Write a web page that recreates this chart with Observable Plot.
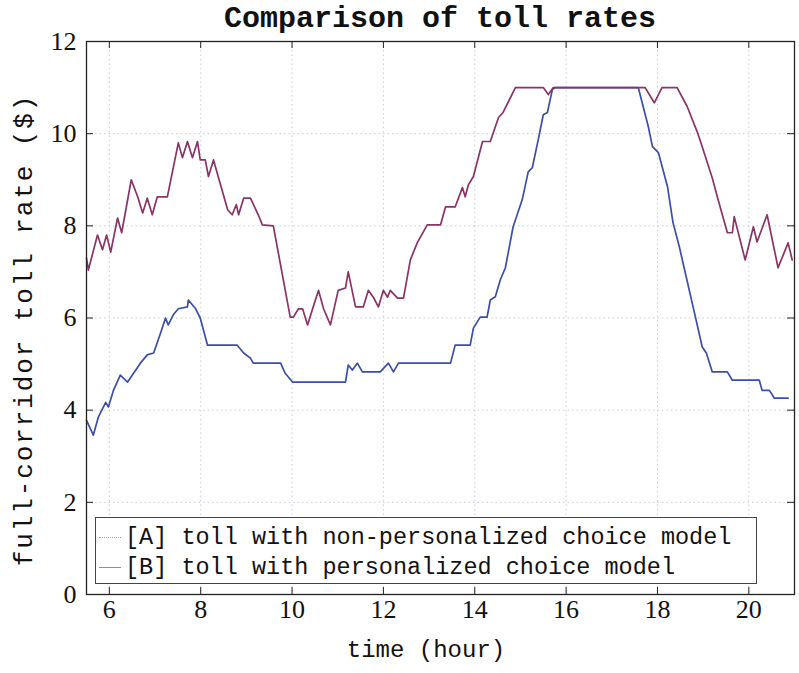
<!DOCTYPE html>
<html><head><meta charset="utf-8">
<script src="https://cdn.jsdelivr.net/npm/d3@7"></script>
<script src="https://cdn.jsdelivr.net/npm/@observablehq/plot@0.6"></script>
<style>
body{margin:0;background:#fff;}
#wrap{position:relative;width:799px;height:673px;overflow:hidden;background:#fff;}
#chart{position:absolute;left:0;top:0;}
#title{position:absolute;left:86px;width:708px;top:2px;text-align:center;font:bold 30px "Liberation Mono";color:#111;white-space:nowrap;z-index:2;}
#xlabel{position:absolute;left:86px;width:680px;top:637px;text-align:center;font:24px "Liberation Mono";color:#111;}
#ylabel{position:absolute;left:25px;top:330px;transform:translate(-50%,-50%) rotate(-90deg);font:26px "Liberation Mono";letter-spacing:1.9px;white-space:nowrap;color:#111;}
#legend{position:absolute;left:95px;top:517px;width:660px;height:65px;border:1px solid #444;background:#fff;font:23.5px "Liberation Mono";color:#111;z-index:2;}
.row{position:absolute;left:0;height:30px;line-height:30px;white-space:nowrap;}
.sample{display:inline-block;width:22px;margin:0 4px 0 3px;vertical-align:middle;}
svg text{font-family:"Liberation Serif";}
</style></head>
<body><div id="wrap">
<div id="chart"></div>
<div id="title">Comparison of toll rates</div>
<div id="xlabel">time (hour)</div>
<div id="ylabel">full-corridor toll rate ($)</div>
<div id="legend"></div>
</div>
<script>
const xTicks = [6, 8, 10, 12, 14, 16, 18, 20];
const yTicks = [0, 2, 4, 6, 8, 10, 12];

const seriesNames = ["[A] toll with non-personalized choice model", "[B] toll with personalized choice model"];
const seriesColors = ["#3b4fa8", "#8c3366"];

// [A] non-personalized
const hoursA = [5.50,5.65,5.76,5.92,5.98,6.09,6.24,6.40,6.53,6.68,6.83,6.97,7.12,7.23,7.29,7.40,7.51,7.71,7.73,7.89,7.99,8.15,8.80,8.94,9.09,9.15,9.75,9.85,10.01,11.17,11.23,11.32,11.43,11.54,11.93,12.11,12.22,12.33,13.47,13.57,13.90,13.97,14.12,14.27,14.34,14.45,14.56,14.67,14.84,15.04,15.17,15.26,15.39,15.50,15.59,15.70,15.76,17.58,17.80,17.89,18.02,18.22,18.34,18.48,18.63,18.81,18.98,19.07,19.20,19.53,19.64,20.23,20.29,20.45,20.56,20.86];
const tollA = [3.78,3.46,3.85,4.17,4.07,4.43,4.76,4.61,4.80,5.02,5.20,5.24,5.67,6.00,5.85,6.07,6.20,6.24,6.39,6.20,6.00,5.41,5.41,5.24,5.13,5.02,5.02,4.80,4.61,4.61,4.98,4.87,5.02,4.83,4.83,5.02,4.83,5.02,5.02,5.41,5.41,5.78,6.02,6.02,6.39,6.46,6.83,7.09,7.98,8.57,9.17,9.26,9.87,10.41,10.46,10.96,11.00,11.00,10.15,9.72,9.59,8.85,8.07,7.54,6.89,6.11,5.37,5.24,4.83,4.83,4.65,4.65,4.43,4.43,4.26,4.26];

// [B] personalized
const hoursB = [5.50,5.54,5.74,5.85,5.94,6.03,6.18,6.27,6.48,6.62,6.73,6.83,6.94,7.05,7.27,7.51,7.60,7.71,7.82,7.93,7.99,8.10,8.17,8.28,8.59,8.69,8.78,8.83,8.94,9.09,9.26,9.35,9.59,9.96,10.03,10.14,10.23,10.34,10.45,10.58,10.69,10.84,11.01,11.17,11.23,11.39,11.56,11.67,11.78,11.89,12.00,12.09,12.15,12.31,12.44,12.59,12.74,12.96,13.25,13.36,13.57,13.73,13.79,13.86,13.97,14.17,14.34,14.52,14.62,14.89,15.50,15.61,15.72,17.73,17.93,18.10,18.43,18.65,18.87,18.93,19.20,19.31,19.53,19.64,19.68,19.92,20.10,20.18,20.40,20.64,20.86,20.95];
const tollB = [7.30,7.04,7.80,7.48,7.80,7.43,8.17,7.85,9.00,8.63,8.28,8.60,8.24,8.63,8.63,9.80,9.48,9.83,9.48,9.83,9.43,9.43,9.07,9.43,8.35,8.24,8.46,8.24,8.60,8.60,8.24,8.02,8.00,6.02,6.02,6.20,6.20,5.85,6.20,6.60,6.20,5.85,6.60,6.65,7.00,6.24,6.24,6.60,6.45,6.24,6.60,6.45,6.60,6.43,6.43,7.26,7.63,8.02,8.02,8.41,8.41,8.83,8.63,8.89,9.07,9.83,9.83,10.35,10.46,11.00,11.00,10.85,11.00,11.00,10.67,11.00,11.00,10.59,10.04,9.87,9.04,8.63,7.85,7.85,8.20,7.26,7.98,7.65,8.24,7.09,7.63,7.26];

const dataA = hoursA.map((h, i) => ({hour: h, toll: tollA[i]}));
const dataB = hoursB.map((h, i) => ({hour: h, toll: tollB[i]}));

const W = 799, H = 673, mT = 41, mB = 79, mL = 86, mR = 5;
const innerH = H - mT - mB, innerW = W - mL - mR, tk = 7;

const chart = Plot.plot({
  width: W, height: H, marginTop: mT, marginBottom: mB, marginLeft: mL, marginRight: mR,
  style: {fontFamily: "Liberation Serif", fontSize: "26px", color: "#111", background: "transparent"},
  x: {domain: [5.5, 21]},
  y: {domain: [0, 12]},
  marks: [
    Plot.gridX(xTicks, {stroke: "#8a94b0", strokeOpacity: 0.45, strokeDasharray: "1.5,3"}),
    Plot.gridY(yTicks, {stroke: "#8a94b0", strokeOpacity: 0.45, strokeDasharray: "1.5,3"}),
    Plot.line(dataA, {x: "hour", y: "toll", stroke: seriesColors[0], strokeWidth: 1.7}),
    Plot.line(dataB, {x: "hour", y: "toll", stroke: seriesColors[1], strokeWidth: 1.7}),
    Plot.tickX(xTicks, {x: d => d, insetTop: innerH - tk, stroke: "#222"}),
    Plot.tickX(xTicks, {x: d => d, insetBottom: innerH - tk, stroke: "#222"}),
    Plot.tickY(yTicks, {y: d => d, insetRight: innerW - tk, stroke: "#222"}),
    Plot.tickY(yTicks, {y: d => d, insetLeft: innerW - tk, stroke: "#222"}),
    Plot.frame({stroke: "#222", strokeWidth: 1.3}),
    Plot.axisX(xTicks, {tickSize: 0, tickPadding: 5, label: null}),
    Plot.axisY(yTicks, {tickSize: 0, tickPadding: 10, label: null})
  ]
});
document.getElementById("chart").appendChild(chart);

const legend = document.getElementById("legend");
seriesNames.forEach((name, i) => {
  const row = document.createElement("div");
  row.className = "row";
  row.style.top = (5 + i * 30) + "px";
  const s = document.createElement("span");
  s.className = "sample";
  s.style.borderTop = i === 0 ? "1px dotted #7fa8e0" : "1px solid #a08890";
  row.appendChild(s);
  row.appendChild(document.createTextNode(name));
  legend.appendChild(row);
});
</script>
</body></html>
